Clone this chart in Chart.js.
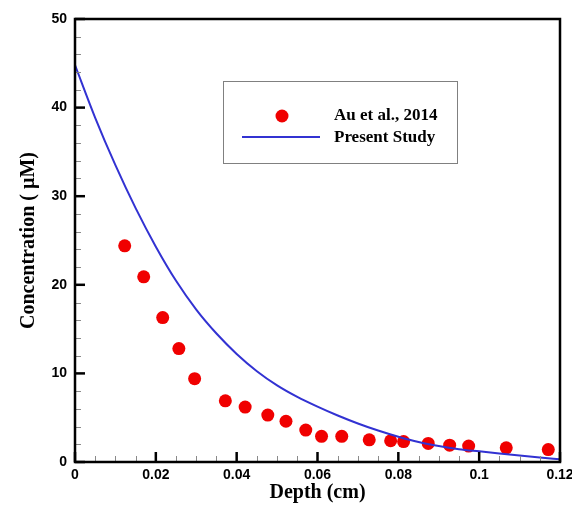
<!DOCTYPE html>
<html><head><meta charset="utf-8">
<script src="https://cdn.jsdelivr.net/npm/chart.js@4/dist/chart.umd.min.js"></script>
<style>html,body{margin:0;padding:0;background:#fff}</style>
</head><body>
<canvas id="c" width="572" height="505"></canvas>
<script>
// Experimental data (Au et al., 2014)
const expDepth = [0.0123,0.0170,0.0217,0.0257,0.0296,0.0372,0.0421,0.0477,0.0522,0.0571,0.0610,0.0660,0.0728,0.0781,0.0813,0.0874,0.0927,0.0974,0.1067,0.1171];
const expConc  = [24.4,20.9,16.3,12.8,9.4,6.9,6.2,5.3,4.6,3.6,2.9,2.9,2.5,2.4,2.3,2.1,1.9,1.8,1.6,1.4];
// Present study curve
const modelDepth = [0,0.005,0.01,0.015,0.02,0.025,0.03,0.035,0.04,0.045,0.05,0.055,0.06,0.065,0.07,0.075,0.08,0.085,0.09,0.095,0.1,0.105,0.11,0.115,0.12];
const modelConc  = [44.8,38.85,33.5,28.65,24.3,20.45,17.2,14.5,12.2,10.25,8.65,7.35,6.25,5.25,4.35,3.55,2.85,2.25,1.8,1.45,1.2,0.96,0.73,0.51,0.3];
// Ticks
const xTicks = [0,0.02,0.04,0.06,0.08,0.1,0.12];
const xTickLabels = ['0','0.02','0.04','0.06','0.08','0.1','0.12'];
const yTicks = [0,10,20,30,40,50];
const yTickLabels = ['0','10','20','30','40','50'];
const xMinorStep = 0.005;
const yMinorStep = 2;

const seriesNames = ['Au et al., 2014','Present Study'];
const xTitle = 'Depth (cm)';
const yTitle = 'Concentration ( \u00b5M)';

const RED = '#f00000';
const BLUE = '#3232d2';

const expPts = expDepth.map((d,i)=>({x:d,y:expConc[i]}));
const modelPts = modelDepth.map((d,i)=>({x:d,y:modelConc[i]}));

const frame = {
  id:'frame',
  afterDatasetsDraw(chart){
    const {ctx, chartArea:a, scales:{x,y}} = chart;
    ctx.save();
    const line=(x1,y1,x2,y2)=>{ctx.beginPath();ctx.moveTo(x1,y1);ctx.lineTo(x2,y2);ctx.stroke();};
    // minor ticks
    ctx.strokeStyle='#8a8a8a'; ctx.lineWidth=1;
    for(let v=yMinorStep; v<50; v+=yMinorStep){
      if (Math.abs(v%10)<1e-9) continue;
      const p=Math.round(y.getPixelForValue(v))+0.5; line(a.left,p,a.left+6,p);
    }
    for(let k=1;k<24;k++){
      if(k%4===0) continue;
      const p=Math.round(x.getPixelForValue(k*xMinorStep))+0.5; line(p,a.bottom,p,a.bottom-6);
    }
    // major ticks
    ctx.strokeStyle='#000'; ctx.lineWidth=2.5;
    yTicks.forEach(v=>{const p=y.getPixelForValue(v); line(a.left,p,a.left+10,p);});
    xTicks.forEach(v=>{const p=x.getPixelForValue(v); line(p,a.bottom,p,a.bottom-10);});
    // frame
    ctx.lineWidth=2.5; ctx.strokeRect(a.left,a.top,a.right-a.left,a.bottom-a.top);
    // legend
    const lx=a.left+148, ly=a.top+62, lw=234, lh=82;
    ctx.fillStyle='#fff'; ctx.fillRect(lx,ly,lw,lh);
    ctx.strokeStyle='#808080'; ctx.lineWidth=1; ctx.strokeRect(lx+0.5,ly+0.5,lw,lh);
    ctx.fillStyle=RED; ctx.beginPath(); ctx.arc(lx+59,ly+35,6.5,0,Math.PI*2); ctx.fill();
    ctx.strokeStyle=BLUE; ctx.lineWidth=2; line(lx+19,ly+56,lx+97,ly+56);
    ctx.fillStyle='#000'; ctx.font='bold 17px "Liberation Serif"'; ctx.textBaseline='middle'; ctx.textAlign='left';
    ctx.fillText(seriesNames[0], lx+111, ly+35);
    ctx.fillText(seriesNames[1], lx+111, ly+57);
    ctx.restore();
  }
};

new Chart(document.getElementById('c'),{
  type:'scatter',
  data:{datasets:[
    {label:seriesNames[0], data:expPts, showLine:false, pointRadius:6.5, pointHoverRadius:6.5, backgroundColor:RED, borderWidth:0, order:2},
    {label:seriesNames[1], data:modelPts, showLine:true, borderColor:BLUE, borderWidth:2, pointRadius:0, cubicInterpolationMode:'monotone', fill:false, order:1}
  ]},
  options:{
    responsive:false, animation:false, devicePixelRatio:1,
    layout:{padding:{top:19,right:12,left:0,bottom:0}},
    plugins:{legend:{display:false}, tooltip:{enabled:false}},
    scales:{
      x:{type:'linear', min:0, max:0.12,
        afterBuildTicks:s=>{s.ticks=xTicks.map(v=>({value:v}));},
        afterFit:s=>{s.height=43; s.paddingLeft=0; s.paddingRight=0;},
        ticks:{callback:(v,i)=>xTickLabels[i], color:'#000', padding:5, maxRotation:0, autoSkip:false, font:{family:'"Liberation Sans"', size:14, weight:'bold'}},
        grid:{display:false, drawTicks:false}, border:{display:false},
        title:{display:true, text:xTitle, color:'#000', padding:{top:0,bottom:0}, font:{family:'"Liberation Serif"', size:20, weight:'bold'}}
      },
      y:{type:'linear', min:0, max:50,
        afterBuildTicks:s=>{s.ticks=yTicks.map(v=>({value:v}));},
        afterFit:s=>{s.width=75; s.paddingTop=0; s.paddingBottom=0;},
        ticks:{callback:(v,i)=>yTickLabels[i], color:'#000', padding:8, autoSkip:false, font:{family:'"Liberation Sans"', size:14, weight:'bold'}},
        grid:{display:false, drawTicks:false}, border:{display:false},
        title:{display:true, text:yTitle, color:'#000', padding:{top:17,bottom:0}, font:{family:'"Liberation Serif"', size:20, weight:'bold'}}
      }
    }
  },
  plugins:[frame]
});
</script>
</body></html>
